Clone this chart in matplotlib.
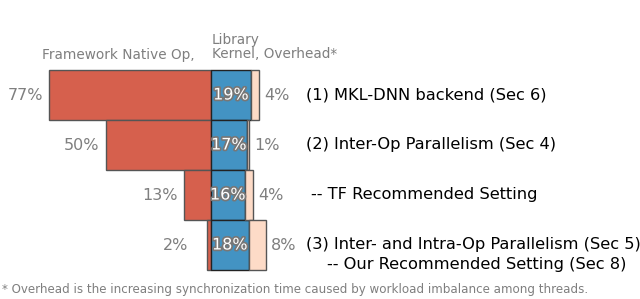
import matplotlib
matplotlib.use("Agg")
import matplotlib.pyplot as plt
import matplotlib.patheffects as pe
import numpy as np

# Data
native = [77, 50, 13, 2]
kernel = [19, 17, 16, 18]
overhead = [4, 1, 4, 8]
settings = ["(1) MKL-DNN backend (Sec 6)",
            "(2) Inter-Op Parallelism (Sec 4)",
            "-- TF Recommended Setting",
            "(3) Inter- and Intra-Op Parallelism (Sec 5)"]
setting_extra = "-- Our Recommended Setting (Sec 8)"
footnote = "* Overhead is the increasing synchronization time caused by workload imbalance among threads."

# Colors
cNative = "#d6604d"
cKernel = "#4393c3"
cOver = "#fddbc7"
grey = "#7f7f7f"

f = plt.figure(figsize=(6.4, 2.99), dpi=100)
ax = f.add_axes([0, 0, 1, 1])
ax.set_xlim(-100.5, 204.3)
ax.set_ylim(4.08, -1.9)
ax.axis("off")

y = np.arange(len(native))
ax.barh(y, [-v for v in native], height=1.0, color=cNative, edgecolor="#555555", linewidth=1)
ax.barh(y, kernel, height=1.0, color=cKernel, edgecolor="#222222", linewidth=1)
ax.barh(y, overhead, left=kernel, height=1.0, color=cOver, edgecolor="#555555", linewidth=1)

for i in range(len(native)):
    # left labels
    ax.text(-max(native[i], 8) - 3, y[i], "%d%%" % native[i], ha="right", va="center",
            fontsize=11.5, color=grey)
    # kernel labels (white with outline)
    ax.text(kernel[i] / 2.0, y[i], "%d%%" % kernel[i], ha="center", va="center",
            fontsize=11.5, color="white",
            path_effects=[pe.withStroke(linewidth=2.5, foreground="#777777")])
    # overhead labels
    ax.text(kernel[i] + overhead[i] + 2.4, y[i], "%d%%" % overhead[i], ha="left", va="center",
            fontsize=11.5, color=grey)

# setting names
xs = [45.2, 45.2, 47.6, 45.2]
for i in range(len(settings)):
    ax.text(xs[i], y[i] - (0.02 if i == 3 else 0), settings[i], ha="left", va="center",
            fontsize=11.7, color="black")
ax.text(55.2, 3.4, setting_extra, ha="left", va="center", fontsize=11.7, color="black")

# headers
ax.text(-7.6, -0.8, "Framework Native Op,", ha="right", va="center", fontsize=9.8, color=grey)
ax.text(0.4, -0.96, "Library\nKernel, Overhead*", ha="left", va="center", fontsize=9.8,
        color=grey, linespacing=1.0)

# footnote
f.text(0.003, 1 - 289 / 299.0, footnote, ha="left", va="center", fontsize=8.6, color=grey)

plt.savefig("out.png", dpi=100, facecolor="w")
